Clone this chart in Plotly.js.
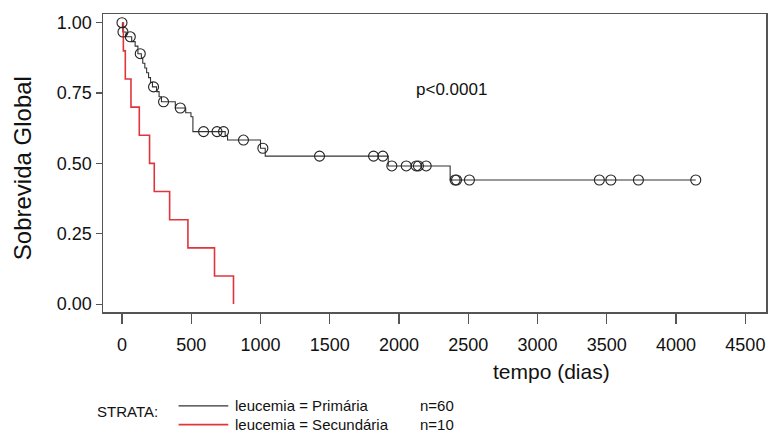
<!DOCTYPE html>
<html>
<head>
<meta charset="utf-8">
<script src="https://cdn.plot.ly/plotly-3.0.1.min.js"></script>
<style>html,body{margin:0;padding:0;background:#fff;}#chart{width:777px;height:433px;}</style>
</head>
<body>
<div id="chart"></div>
<script>
// Primary leukemia (n=60): Kaplan-Meier step points (time in days, survival after step)
const primTime = [0, 3, 6, 30, 70, 95, 115, 140, 150, 165, 178, 192, 206, 220, 250, 268, 285, 385, 460, 498, 512, 745, 762, 1000, 1034, 1922, 2369, 4142];
const primSurv = [1.0, 0.983, 0.967, 0.95, 0.933, 0.917, 0.89, 0.873, 0.856, 0.839, 0.822, 0.805, 0.788, 0.772, 0.755, 0.737, 0.719, 0.697, 0.68, 0.666, 0.613, 0.598, 0.583, 0.554, 0.526, 0.491, 0.441, 0.441];
// Primary: censored observations
const primCensTime = [0, 7, 60, 132, 228, 300, 421, 589, 686, 733, 877, 1017, 1426, 1816, 1883, 1948, 2052, 2124, 2140, 2196, 2405, 2415, 2508, 3446, 3529, 3728, 4142];
const primCensSurv = [1.0, 0.967, 0.95, 0.89, 0.772, 0.719, 0.697, 0.613, 0.613, 0.613, 0.583, 0.554, 0.526, 0.526, 0.526, 0.491, 0.491, 0.491, 0.491, 0.491, 0.441, 0.441, 0.441, 0.441, 0.441, 0.441, 0.441];
// Secondary leukemia (n=10)
const secTime = [0, 10, 24, 65, 125, 199, 233, 344, 476, 668, 805];
const secSurv = [1.0, 0.9, 0.8, 0.7, 0.6, 0.5, 0.4, 0.3, 0.2, 0.1, 0.0];

const xTicks = [0, 500, 1000, 1500, 2000, 2500, 3000, 3500, 4000, 4500];
const yTicks = [0, 0.25, 0.5, 0.75, 1.0];
const yTickText = ["0.00", "0.25", "0.50", "0.75", "1.00"];
const legendLabels = ["leucemia = Primária", "leucemia = Secundária"];
const legendN = ["n=60", "n=10"];
const pText = "p<0.0001";
const xTitle = "tempo (dias)";
const yTitle = "Sobrevida Global";

const FONT = "Liberation Sans, Arial, sans-serif";
const colPrim = "#333333";
const colSec = "#e0353b";

const traces = [
  {x: primTime, y: primSurv, type: "scatter", mode: "lines", line: {shape: "hv", color: colPrim, width: 1.1}, hoverinfo: "skip"},
  {x: secTime, y: secSurv, type: "scatter", mode: "lines", line: {shape: "hv", color: colSec, width: 1.6}, hoverinfo: "skip"},
  {x: primCensTime, y: primCensSurv, type: "scatter", mode: "markers",
   marker: {symbol: "circle-open", size: 10, color: "#222", line: {width: 1.1, color: "#222"}}, hoverinfo: "skip"}
];

const legRowY = [-0.315, -0.378];
const shapes = [];
const C = {xanchor: "center", yanchor: "middle", showarrow: false};
const annotations = [
  Object.assign({x: 2376, y: 0.764, xref: "x", yref: "y", text: pText, font: {family: FONT, size: 17, color: "#111"}}, C),
  Object.assign({x: 0.677, y: -0.2, xref: "paper", yref: "paper", text: xTitle, font: {family: FONT, size: 21, color: "#111"}}, C),
  Object.assign({x: -0.122, y: 0.483, xref: "paper", yref: "paper", text: yTitle, textangle: -90, font: {family: FONT, size: 24, color: "#111"}}, C),
  Object.assign({x: 0.0366, y: -0.335, xref: "paper", yref: "paper", text: "STRATA:", font: {family: FONT, size: 15, color: "#111"}}, C)
];
const legCols = [colPrim, colSec];
legendLabels.forEach((lab, i) => {
  shapes.push({type: "line", xref: "paper", yref: "paper", x0: 0.114, x1: 0.189, y0: legRowY[i], y1: legRowY[i],
               line: {color: legCols[i], width: i === 0 ? 1.1 : 1.8}});
  annotations.push({x: 0.196, y: legRowY[i], xref: "paper", yref: "paper", xanchor: "left", yanchor: "middle", text: lab, showarrow: false,
                    font: {family: FONT, size: 15, color: "#111"}});
  annotations.push({x: 0.475, y: legRowY[i], xref: "paper", yref: "paper", xanchor: "left", yanchor: "middle", text: legendN[i], showarrow: false,
                    font: {family: FONT, size: 15, color: "#111"}});
});

const layout = {
  width: 777, height: 433,
  margin: {l: 103, r: 11, t: 14, b: 121},
  paper_bgcolor: "#fff", plot_bgcolor: "#fff",
  showlegend: false,
  xaxis: {range: [-137, 4649], tickvals: xTicks, ticktext: xTicks.map(String), showgrid: false, zeroline: false,
          showline: true, mirror: true, linecolor: "#555", linewidth: 1.5,
          ticks: "outside", ticklen: 10, tickcolor: "#555", tickwidth: 1.2, ticklabelstandoff: 6,
          tickfont: {family: FONT, size: 18, color: "#111"}},
  yaxis: {range: [-0.028, 1.031], tickvals: yTicks, ticktext: yTickText, showgrid: false, zeroline: false,
          showline: true, mirror: true, linecolor: "#555", linewidth: 1.5,
          ticks: "outside", ticklen: 6, tickcolor: "#555", tickwidth: 1.2,
          tickfont: {family: FONT, size: 18, color: "#111"}},
  shapes: shapes,
  annotations: annotations
};

Plotly.newPlot("chart", traces, layout, {displayModeBar: false, staticPlot: true});
</script>
</body>
</html>
